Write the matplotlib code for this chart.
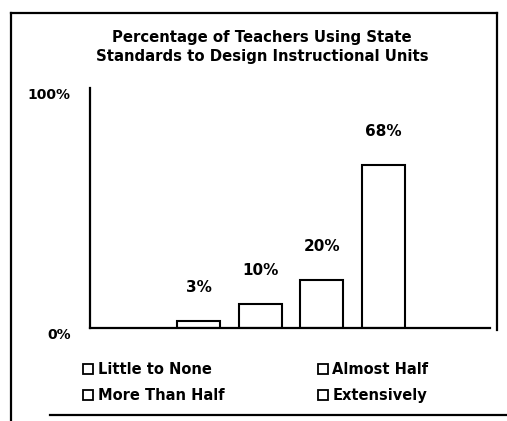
import matplotlib
matplotlib.use("Agg")
import matplotlib.pyplot as plt
from matplotlib.lines import Line2D

# Data
categories = ["Little to None", "Almost Half", "More Than Half", "Extensively"]
values = [3, 10, 20, 68]
value_labels = ["3%", "10%", "20%", "68%"]
ytick_values = [0, 100]
ytick_labels = ["0%", "100%"]
title = "Percentage of Teachers Using State\nStandards to Design Instructional Units"

plt.rcParams["font.family"] = ["DejaVu Sans"]
plt.rcParams["font.weight"] = "bold"

W, H = 507, 421
fig = plt.figure(figsize=(W / 100, H / 100), dpi=100)
fig.patch.set_facecolor("white")

ax = fig.add_axes([90 / W, 1 - 328 / H, 400 / W, 240 / H])
x = list(range(len(values)))
ax.bar(x, values, width=0.7, color="white", edgecolor="black", linewidth=1.5)
ax.set_xlim(-1.76, 4.73)
ax.set_ylim(0, 100)
for s in ["top", "right"]:
    ax.spines[s].set_visible(False)
for s in ["left", "bottom"]:
    ax.spines[s].set_linewidth(1.6)
ax.set_xticks([])
ax.set_yticks(ytick_values, ytick_labels)
ax.tick_params(axis="y", length=0, pad=14, labelsize=10)
for lab in ax.get_yticklabels():
    lab.set_verticalalignment("top")
    lab.set_fontweight("bold")

for xi, v, lab in zip(x, values, value_labels):
    ax.annotate(lab, (xi, v), xytext=(0, 24), textcoords="offset points",
                ha="center", va="center", fontsize=11, fontweight="bold")

fig.text(262 / W, 1 - 47 / H, title, ha="center", va="center",
         fontsize=10.7, fontweight="bold", linespacing=1.3)

# Legend laid out in two rows, two columns
handles = [Line2D([], [], marker="s", linestyle="none", markerfacecolor="white",
                  markeredgecolor="black", markeredgewidth=1.3, markersize=7)
           for _ in categories]
order = [0, 2, 1, 3]
fig.legend([handles[i] for i in order], [categories[i] for i in order],
           ncol=2, loc="upper left", bbox_to_anchor=(83 / W, 1 - 362 / H),
           frameon=False, borderpad=0, borderaxespad=0, handlelength=0.7,
           handletextpad=0.3, columnspacing=6.4, labelspacing=0.75,
           prop={"size": 10.5, "weight": "bold"})

# Outer border
def fig_line(xs, ys):
    fig.add_artist(Line2D([v / W for v in xs], [1 - v / H for v in ys],
                          color="black", linewidth=1.6))

fig_line([11, 11], [13, 421])
fig_line([11, 497], [13, 13])
fig_line([497, 497], [13, 330])
fig_line([50, 507], [415, 415])

fig.savefig("out.png", dpi=100)
